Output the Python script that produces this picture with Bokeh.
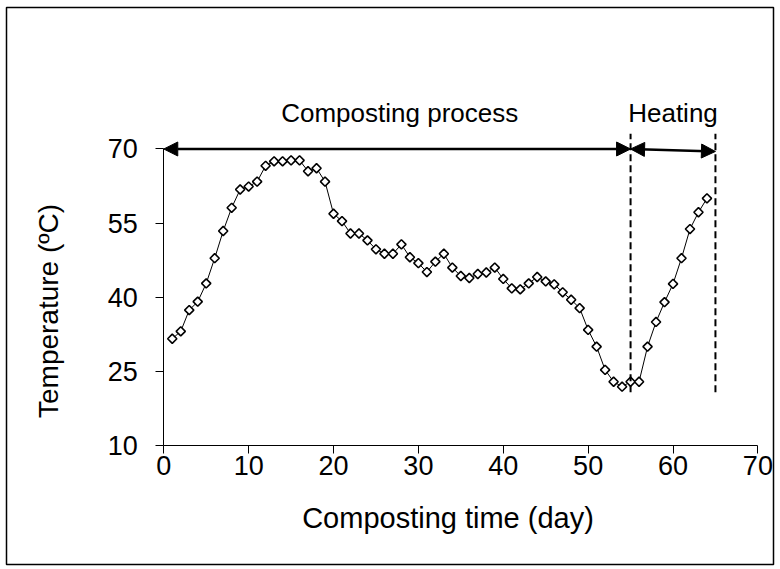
import numpy as np
from bokeh.plotting import figure
from bokeh.models import Range1d, Arrow, NormalHead, Label, FixedTicker
from bokeh.core.properties import value
from bokeh.embed import file_html
from bokeh.resources import INLINE

# ---- data ----
days = list(range(1, 65))
temperature = [31.6, 33.1, 37.4, 39.1, 42.8, 47.9, 53.4, 58.1, 61.8, 62.4,
               63.4, 66.6, 67.5, 67.5, 67.7, 67.7, 65.5, 66.1, 63.4, 56.9,
               55.4, 52.9, 52.9, 51.5, 49.7, 48.8, 48.8, 50.7, 48.1, 46.9,
               45.1, 47.2, 48.8, 46.0, 44.3, 43.9, 44.7, 45.0, 46.0, 43.7,
               41.8, 41.6, 42.8, 44.1, 43.2, 42.6, 41.0, 39.5, 37.8, 33.4,
               30.0, 25.3, 22.9, 21.9, 22.9, 22.9, 30.0, 35.0, 39.0, 42.7,
               47.9, 53.8, 57.2, 60.0]
x_ticks = [0, 10, 20, 30, 40, 50, 60, 70]
y_ticks = [10, 25, 40, 55, 70]
x_axis_bounds = (0, 70)
y_axis_bounds = (10, 70)
phase_start = [0, 55]
phase_end = [55, 65]
phase_arrow_y_start = [70, 70]
phase_arrow_y_end = [70, 69.5]
phase_labels = ["Composting process", "Heating"]
phase_label_x = [27.8, 60.0]
phase_label_y = [77.2, 77.2]
divider_x = [55, 65]
divider_bottom = [20.8, 20.8]
divider_top = [73.1, 73.1]

FONT = "Liberation Sans"

# The frame spans the whole bordered chart area; the axes sit inside it.
p = figure(frame_width=767, frame_height=557,
           min_border_left=6, min_border_right=7,
           min_border_top=7, min_border_bottom=5,
           x_range=Range1d(-18.53, 71.84), y_range=Range1d(-14.08, 98.63),
           output_backend="svg", toolbar_location=None)
p.xgrid.visible = False
p.ygrid.visible = False
p.outline_line_color = "black"
p.outline_line_width = 1.5
p.background_fill_color = "white"
p.border_fill_color = "white"

for ax in (p.xaxis[0], p.yaxis[0]):
    ax.axis_line_color = "black"
    ax.axis_line_width = 1
    ax.major_tick_line_color = "black"
    ax.major_tick_out = 8
    ax.major_tick_in = 0
    ax.minor_tick_out = 0
    ax.minor_tick_in = 0
    ax.major_label_text_font = FONT
    ax.major_label_text_font_size = "27px"
    ax.major_label_text_color = "black"

p.xaxis.ticker = FixedTicker(ticks=x_ticks)
p.yaxis.ticker = FixedTicker(ticks=y_ticks)
p.xaxis.bounds = x_axis_bounds
p.yaxis.bounds = y_axis_bounds
p.xaxis.fixed_location = y_axis_bounds[0]
p.yaxis.fixed_location = x_axis_bounds[0]
p.yaxis.major_label_standoff = 18
p.xaxis.major_label_standoff = 3

# series
p.line(days, temperature, line_color="black", line_width=1)
p.scatter(days, temperature, marker="square", size=6.5, angle=np.pi / 4,
          fill_color="white", line_color="black", line_width=1.6)

# phase dividers
p.segment(x0=divider_x, y0=divider_bottom, x1=divider_x, y1=divider_top,
          line_color="black", line_width=2, line_dash="7 4")

# phase arrows
for xs, xe, ys, ye in zip(phase_start, phase_end, phase_arrow_y_start, phase_arrow_y_end):
    p.add_layout(Arrow(
        start=NormalHead(size=14, fill_color="black", line_color="black"),
        end=NormalHead(size=14, fill_color="black", line_color="black"),
        x_start=xs, y_start=ys, x_end=xe, y_end=ye,
        line_color="black", line_width=2.5))

p.text(x=phase_label_x, y=phase_label_y, text=phase_labels,
       text_font=value(FONT), text_font_size="26px", text_color="black",
       text_align="center", text_baseline="middle")

# axis titles
p.add_layout(Label(x=33.49, y=-4.57, text="Composting time (day)",
                   text_font=FONT, text_font_size="29px", text_color="black",
                   text_align="center", text_baseline="middle"))
p.add_layout(Label(x=-13.64, y=37.22, text="Temperature (ºC)", angle=np.pi / 2,
                   text_font=FONT, text_font_size="28px", text_color="black",
                   text_align="center", text_baseline="middle"))

open("out.html", "w").write(file_html(p, INLINE))
